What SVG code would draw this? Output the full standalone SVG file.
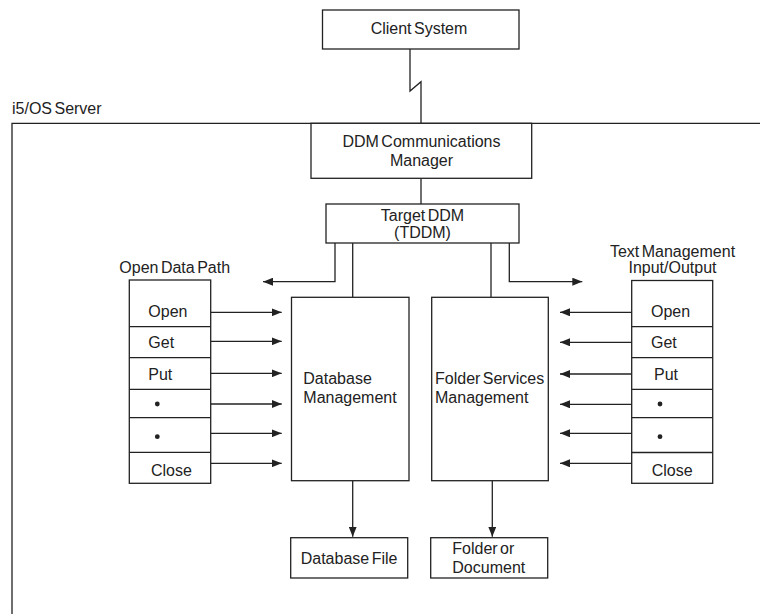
<svg xmlns="http://www.w3.org/2000/svg" width="760" height="614" viewBox="0 0 760 614">
<style>
  .box { fill: #fff; stroke: #222; stroke-width: 1.3; }
  .ln { fill: none; stroke: #222; stroke-width: 1.3; }
  text { font-family: "Liberation Sans", Arial, sans-serif; font-size: 16px; fill: #222; word-spacing: -2px; }
  .c { text-anchor: middle; }
  .dot { fill: #222; }
</style>
<defs>
  <marker id="ah" viewBox="0 0 10 8" refX="10" refY="4" markerWidth="10" markerHeight="8" markerUnits="userSpaceOnUse" orient="auto">
    <path d="M0,0 L10,4 L0,8 Z" fill="#222"/>
  </marker>
</defs>

<g id="server">
  <path class="ln" d="M12,614 V123.3 H760"/>
  <text x="12" y="114">i5/OS Server</text>
</g>

<g id="connectors">
  <path class="ln" d="M410,49 V91 L421,81.7 V123"/>
  <line class="ln" x1="421" y1="178.3" x2="421" y2="204"/>
  <path class="ln" d="M335,243 V281.7 H263" marker-end="url(#ah)"/>
  <line class="ln" x1="352.7" y1="243" x2="352.7" y2="297.3"/>
  <line class="ln" x1="491" y1="243" x2="491" y2="297.3"/>
  <path class="ln" d="M509.3,243 V281.7 H582.3" marker-end="url(#ah)"/>
  <line class="ln" x1="210.7" y1="312.3" x2="281.7" y2="312.3" marker-end="url(#ah)"/>
  <line class="ln" x1="210.7" y1="341.3" x2="281.7" y2="341.3" marker-end="url(#ah)"/>
  <line class="ln" x1="210.7" y1="373.3" x2="281.7" y2="373.3" marker-end="url(#ah)"/>
  <line class="ln" x1="210.7" y1="404" x2="281.7" y2="404" marker-end="url(#ah)"/>
  <line class="ln" x1="210.7" y1="433.3" x2="281.7" y2="433.3" marker-end="url(#ah)"/>
  <line class="ln" x1="210.7" y1="463.3" x2="281.7" y2="463.3" marker-end="url(#ah)"/>
  <line class="ln" x1="631.7" y1="312.3" x2="560" y2="312.3" marker-end="url(#ah)"/>
  <line class="ln" x1="631.7" y1="342.3" x2="560" y2="342.3" marker-end="url(#ah)"/>
  <line class="ln" x1="631.7" y1="374" x2="560" y2="374" marker-end="url(#ah)"/>
  <line class="ln" x1="631.7" y1="404.3" x2="560" y2="404.3" marker-end="url(#ah)"/>
  <line class="ln" x1="631.7" y1="433.3" x2="560" y2="433.3" marker-end="url(#ah)"/>
  <line class="ln" x1="631.7" y1="463.3" x2="560" y2="463.3" marker-end="url(#ah)"/>
  <line class="ln" x1="352.7" y1="480.7" x2="352.7" y2="536.8" marker-end="url(#ah)"/>
  <line class="ln" x1="492.3" y1="480.7" x2="492.3" y2="536.8" marker-end="url(#ah)"/>
</g>

<g id="client">
  <rect class="box" x="322.5" y="10" width="196.5" height="39"/>
  <text class="c" x="419" y="34">Client System</text>
</g>

<g id="ddm-comm">
  <rect class="box" x="311" y="123.3" width="220.7" height="55"/>
  <text class="c" x="421.5" y="147">DDM Communications</text>
  <text class="c" x="421.5" y="166">Manager</text>
</g>

<g id="tddm">
  <rect class="box" x="326" y="204" width="193" height="39"/>
  <text class="c" x="422.5" y="221">Target DDM</text>
  <text class="c" x="422.5" y="238">(TDDM)</text>
</g>

<g id="open-data-path">
  <text x="119.3" y="273">Open Data Path</text>
  <rect class="box" x="129.3" y="280" width="81.4" height="203.3"/>
  <path class="ln" d="M129.3,326.7 H210.7 M129.3,357.7 H210.7 M129.3,389.3 H210.7 M129.3,417.7 H210.7 M129.3,452.3 H210.7"/>
  <text x="148.3" y="316.5">Open</text>
  <text x="148.3" y="348">Get</text>
  <text x="148.3" y="380">Put</text>
  <circle class="dot" cx="157.3" cy="404" r="2.4"/>
  <circle class="dot" cx="157.3" cy="436.7" r="2.4"/>
  <text x="151" y="476">Close</text>
</g>

<g id="text-mgmt">
  <text class="c" x="672.5" y="257">Text Management</text>
  <text class="c" x="672.5" y="273">Input/Output</text>
  <rect class="box" x="631.7" y="280.5" width="81" height="202.8"/>
  <path class="ln" d="M631.7,326.7 H712.7 M631.7,357.7 H712.7 M631.7,389.3 H712.7 M631.7,417.7 H712.7 M631.7,452.5 H712.7"/>
  <text x="651" y="316.5">Open</text>
  <text x="651" y="348">Get</text>
  <text x="654" y="380">Put</text>
  <circle class="dot" cx="660" cy="404" r="2.4"/>
  <circle class="dot" cx="660" cy="436.7" r="2.4"/>
  <text x="651.7" y="476">Close</text>
</g>

<g id="db-mgmt">
  <rect class="box" x="291.5" y="297.3" width="117.5" height="183.4"/>
  <text x="303.3" y="384">Database</text>
  <text x="303.3" y="403">Management</text>
</g>

<g id="folder-services">
  <rect class="box" x="431.7" y="297.3" width="116.6" height="183.4"/>
  <text x="435" y="384">Folder Services</text>
  <text x="435" y="403">Management</text>
</g>

<g id="db-file">
  <rect class="box" x="290.7" y="537.7" width="117" height="40.3"/>
  <text x="300.7" y="563.5">Database File</text>
</g>

<g id="folder-doc">
  <rect class="box" x="430.7" y="537.7" width="117" height="40.3"/>
  <text x="452.3" y="554">Folder or</text>
  <text x="452.3" y="573">Document</text>
</g>
</svg>
